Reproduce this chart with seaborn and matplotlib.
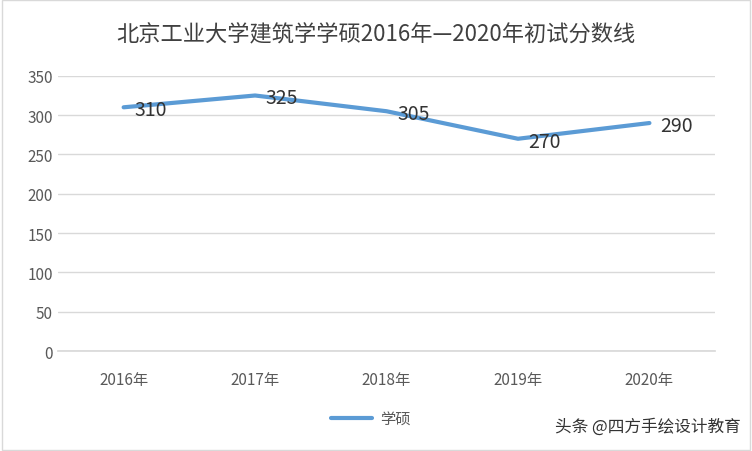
import matplotlib
matplotlib.use("Agg")
import matplotlib.pyplot as plt
import seaborn as sns
import pandas as pd
from matplotlib.patches import Rectangle

years = ["2016年", "2017年", "2018年", "2019年", "2020年"]
scores = [310, 325, 305, 270, 290]
series_name = "学硕"
title = "北京工业大学建筑学学硕2016年—2020年初试分数线"

sns.set_theme(style="white")
plt.rcParams['font.family'] = ['Noto Sans CJK SC', 'DejaVu Sans']

df = pd.DataFrame({"year": years, "score": scores, "s": series_name})
fig = plt.figure(figsize=(7.52, 4.52), dpi=100)
ax = fig.add_axes([0.077, 0.221, 0.874, 0.609])
sns.lineplot(data=df, x="year", y="score", hue="s", sort=False, ax=ax,
             palette=["#5B9BD5"], linewidth=3, legend=False)
for i, v in enumerate(scores):
    ax.text(i + 0.08, v - 3, str(v), fontsize=14, color="#333333", va="center", ha="left")
ax.set_ylim(0, 350)
ax.set_yticks(range(0, 351, 50))
ax.set_xlim(-0.5, 4.5)
ax.grid(axis="y", color="#d9d9d9", linewidth=1)
ax.set_xlabel(""); ax.set_ylabel("")
for s in ax.spines.values():
    s.set_visible(False)
ax.spines["bottom"].set_visible(True); ax.spines["bottom"].set_color("#d9d9d9")
ax.tick_params(axis="both", labelsize=11, colors="#595959", length=0)
ax.tick_params(axis="x", pad=14)
fig.text(0.5, 0.922, title, ha="center", va="center", fontsize=16, color="#404040")
fig.lines.append(plt.Line2D([0.44, 0.495], [0.072, 0.072], transform=fig.transFigure, color="#5B9BD5", linewidth=3))
fig.text(0.505, 0.072, series_name, fontsize=11, color="#595959", va="center")
fig.text(0.985, 0.055, "头条 @四方手绘设计教育", fontsize=12, color="#333333", ha="right", va="center")
fig.patches.append(Rectangle((0.002, 0.002), 0.996, 0.996, transform=fig.transFigure, fill=False, edgecolor="#d9d9d9", linewidth=1))
fig.savefig("out.png", dpi=100)
